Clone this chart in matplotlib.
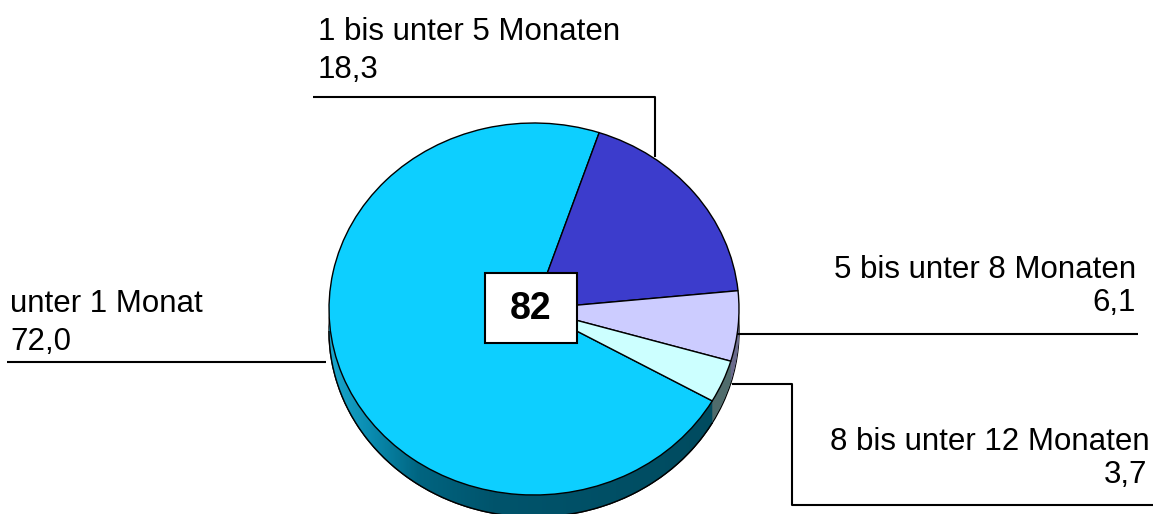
import numpy as np
import matplotlib.pyplot as plt
from matplotlib.transforms import Affine2D
from matplotlib.patches import Rectangle, Polygon
from matplotlib.colors import LinearSegmentedColormap

plt.switch_backend('agg')
plt.rcParams['font.family'] = ['Liberation Sans', 'DejaVu Sans']

# data
labels = ["unter 1 Monat", "1 bis unter 5 Monaten", "5 bis unter 8 Monaten", "8 bis unter 12 Monaten"]
values = [72.0, 18.3, 6.1, 3.7]
value_text = ["72,0", "18,3", "6,1", "3,7"]
total = "82"

top_colors = ["#0dcfff", "#3c3ccc", "#ccccff", "#ccffff"]
side_colors = ["#00566e", "#22227a", "#6a6a8c", "#506c6c"]

W, H = 1167, 514
fig = plt.figure(figsize=(W / 100, H / 100), dpi=100)
ax = fig.add_axes([0, 0, 1, 1])

def Y(py):
    # pixel row -> data y
    return H - py

cx, cy = 534, Y(309)
rx, ry = 205, 186
depth = 22
start = 71.2 + values[0] / 100 * 360

def squash(y0):
    return Affine2D().scale(rx, ry).translate(cx, y0) + ax.transData

# side of the pie: stacked layers
for k in range(depth, 0, -1):
    wedges, _ = ax.pie(values, colors=side_colors, startangle=start, counterclock=False,
                       wedgeprops=dict(linewidth=0))
    for w in wedges:
        w.set_transform(squash(cy - k))
        if k == depth:
            w.set_edgecolor("black")
            w.set_linewidth(1)

# shading on the front side of the big slice
ang = np.linspace(np.pi, 2 * np.pi + np.radians(start - 360), 200)
upper = np.column_stack([cx + rx * np.cos(ang), cy + ry * np.sin(ang)])
lower = np.column_stack([cx + rx * np.cos(ang[::-1]), cy - depth + ry * np.sin(ang[::-1])])
band = Polygon(np.vstack([upper, lower]), closed=True, facecolor='none', edgecolor='none',
               transform=ax.transData)
ax.add_patch(band)
cmap = LinearSegmentedColormap.from_list(
    "side", [(0, "#1aa6cc"), (0.1, "#0a8cb0"), (0.22, "#006480"), (0.4, "#00546c"), (1, "#004a5e")])
grad = np.linspace(0, 1, 256).reshape(1, -1)
im = ax.imshow(grad, cmap=cmap, extent=[cx - rx, cx + rx, cy - ry - depth, cy + 1],
               aspect='auto', zorder=1.5)
im.set_clip_path(band)

# top face
wedges, _ = ax.pie(values, colors=top_colors, startangle=start, counterclock=False,
                   wedgeprops=dict(edgecolor="black", linewidth=1))
for w in wedges:
    w.set_transform(squash(cy))
    w.set_zorder(2)

# outline of the bottom edge on top of the shading
bot = Polygon(lower, closed=False, fill=False, edgecolor="black", linewidth=1, zorder=1.6)
ax.add_patch(bot)

ax.set_aspect('auto')
ax.set_xlim(0, W)
ax.set_ylim(0, H)
ax.axis('off')

# centre box with total
ax.add_patch(Rectangle((485, Y(343)), 92, 70, facecolor="white", edgecolor="black",
                       linewidth=1.5, zorder=5))
ax.text(531, Y(309), total, fontsize=27, fontweight='bold', ha='center', va='center', zorder=6)

fs = 22.5
# labels
ax.text(10, Y(312), labels[0], fontsize=fs, va='baseline', ha='left')
ax.text(10, Y(350), value_text[0], fontsize=fs, va='baseline', ha='left')
ax.text(318, Y(40), labels[1], fontsize=fs, va='baseline', ha='left')
ax.text(318, Y(78), value_text[1], fontsize=fs, va='baseline', ha='left')
ax.text(1136, Y(278), labels[2], fontsize=fs, va='baseline', ha='right')
ax.text(1136, Y(311), value_text[2], fontsize=fs, va='baseline', ha='right')
ax.text(1150, Y(450), labels[3], fontsize=fs, va='baseline', ha='right')
ax.text(1147, Y(483), value_text[3], fontsize=fs, va='baseline', ha='right')

# leader lines
lk = dict(color="black", linewidth=1.5, solid_capstyle='butt')
ax.plot([7, 326], [Y(362), Y(362)], **lk)
ax.plot([313, 655, 655], [Y(97), Y(97), Y(157)], **lk)
ax.plot([737, 1138], [Y(334), Y(334)], **lk)
ax.plot([732, 792, 792, 1153], [Y(384), Y(384), Y(505), Y(505)], **lk)

plt.savefig("out.png", dpi=100)
